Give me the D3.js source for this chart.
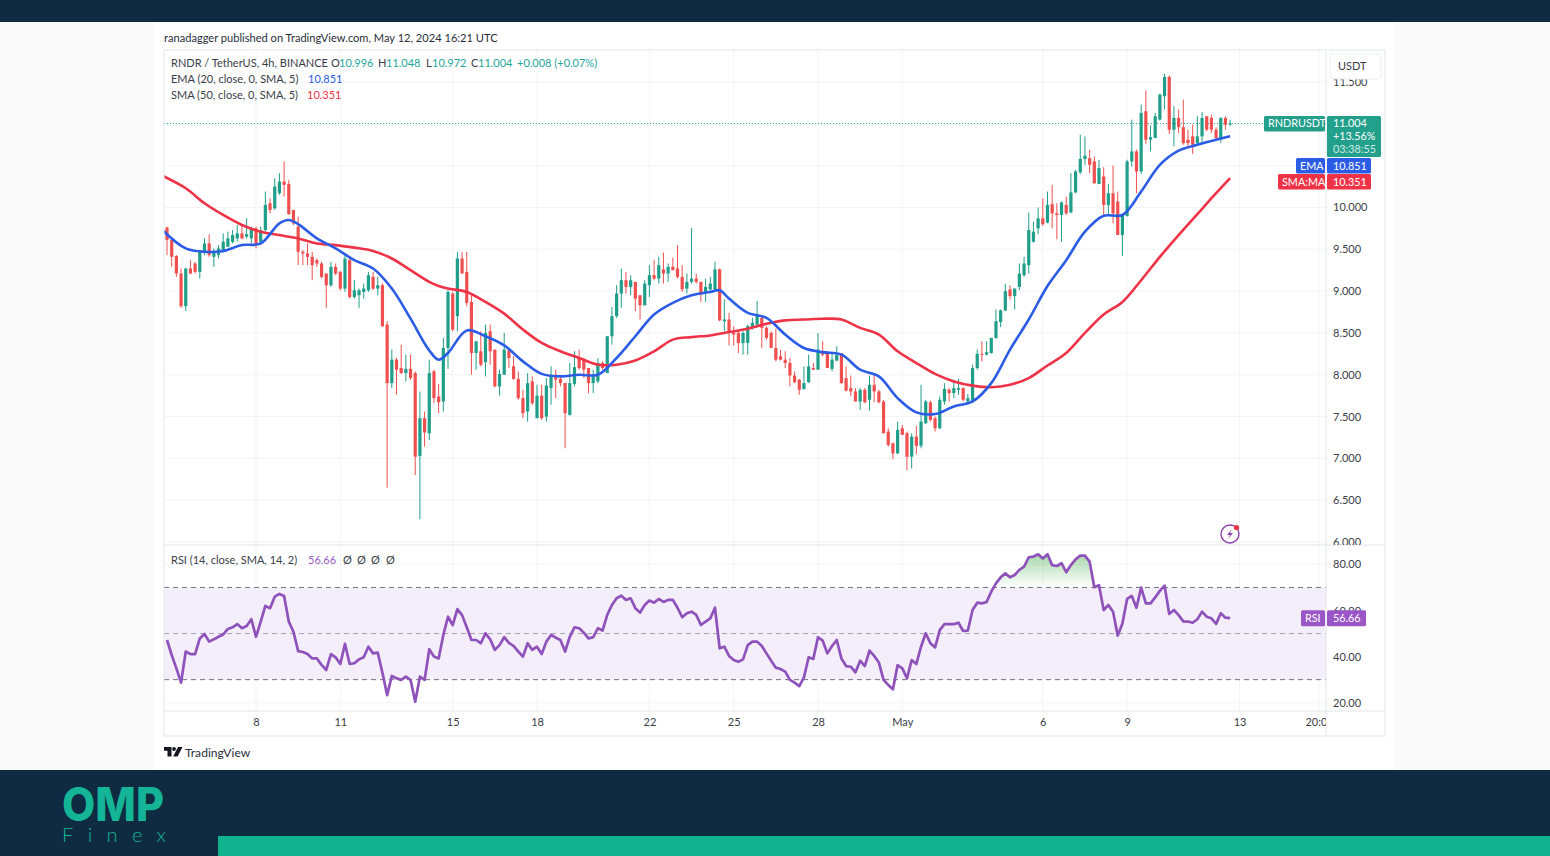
<!DOCTYPE html>
<html>
<head>
<meta charset="utf-8">
<title>RNDR / TetherUS</title>
<script src="https://cdn.jsdelivr.net/npm/d3@7"></script>
<style>
  html, body { margin: 0; padding: 0; background: #fafafa; }
  svg { display: block; }
  text { font-family: Lato, "Noto Sans", sans-serif; }
</style>
</head>
<body>
<svg id="canvas" width="1550" height="856"></svg>
<script>
// candles, 4h bars
const opens = [
  9.76,9.61,9.42,9.21,8.82,9.27,9.33,9.23,9.47,9.57,
  9.41,9.43,9.47,9.53,9.59,9.63,9.69,9.65,9.63,9.75,
  9.59,9.73,10.05,9.99,10.17,10.31,10.28,9.97,9.77,9.47,
  9.45,9.41,9.37,9.33,9.21,9.07,9.29,9.23,9.03,9.37,
  8.93,8.95,8.99,9.01,9.17,9.03,9.07,8.60,7.90,8.18,
  8.08,8.02,8.07,8.02,7.03,7.48,7.30,8.04,7.74,7.68,
  8.32,8.97,8.70,9.39,9.23,8.87,8.26,8.28,8.15,8.52,
  8.30,7.86,8.00,8.29,8.10,7.95,7.72,7.56,7.92,7.48,
  7.75,7.50,7.84,8.00,7.95,7.90,7.52,7.89,8.20,8.18,
  8.08,7.90,7.92,8.14,8.02,8.46,8.70,8.97,9.13,9.05,
  9.11,8.95,8.83,9.07,9.19,9.15,9.26,9.21,9.29,9.27,
  9.17,9.03,9.11,9.15,9.11,8.99,9.02,9.02,9.26,8.64,
  8.66,8.50,8.50,8.38,8.38,8.56,8.60,8.68,8.56,8.50,
  8.32,8.22,8.18,8.14,7.99,7.94,7.83,7.91,8.08,8.06,
  8.28,8.26,8.07,8.17,8.26,7.96,7.84,7.80,7.68,7.82,
  7.70,7.88,7.80,7.68,7.32,7.18,7.06,7.36,7.30,7.02,
  7.26,7.15,7.42,7.67,7.48,7.36,7.68,7.82,7.78,7.82,
  7.84,7.68,7.68,8.08,8.25,8.24,8.26,8.44,8.63,8.77,
  9.02,8.94,9.05,9.19,9.31,9.59,9.75,9.87,9.82,10.04,
  9.93,9.91,10.03,9.94,10.18,10.42,10.58,10.59,10.55,10.28,
  10.37,10.03,10.17,10.07,9.67,9.90,10.55,10.67,10.43,11.15,
  10.81,10.83,11.05,11.33,11.56,10.93,11.07,10.96,10.81,10.85,
  10.77,10.85,11.09,11.07,10.93,10.83,11.07,10.996
];
const highs = [
  9.77,9.62,9.43,9.27,9.28,9.37,9.35,9.49,9.63,9.68,
  9.51,9.55,9.69,9.71,9.73,9.79,9.79,9.87,9.77,9.77,
  9.77,10.19,10.11,10.35,10.41,10.55,10.33,9.97,9.89,9.49,
  9.57,9.47,9.39,9.35,9.21,9.35,9.33,9.24,9.43,9.39,
  9.13,9.03,9.09,9.23,9.23,9.17,9.09,8.64,8.30,8.20,
  8.36,8.24,8.24,8.04,7.80,7.56,8.18,8.06,7.89,8.44,
  9.01,8.99,9.47,9.47,9.47,8.95,8.40,8.52,8.60,8.60,
  8.30,8.06,8.50,8.30,8.22,8.04,7.82,8.02,7.98,7.88,
  7.88,7.96,8.10,8.06,7.98,7.90,8.14,8.28,8.30,8.20,
  8.08,8.06,8.20,8.16,8.46,8.81,9.07,9.27,9.23,9.19,
  9.11,8.95,9.13,9.31,9.37,9.41,9.46,9.33,9.40,9.55,
  9.31,9.21,9.755,9.21,9.11,9.15,9.17,9.35,9.27,8.90,
  8.74,8.58,8.52,8.52,8.60,8.68,8.88,8.70,8.58,8.52,
  8.55,8.30,8.28,8.20,8.04,7.95,8.10,8.24,8.14,8.50,
  8.40,8.28,8.26,8.34,8.26,8.10,7.99,7.84,7.84,7.84,
  7.99,8.00,7.82,7.70,7.36,7.19,7.44,7.40,7.32,7.30,
  7.39,7.88,7.70,7.69,7.50,7.74,7.90,7.84,7.94,7.95,
  7.85,7.77,8.12,8.30,8.40,8.40,8.44,8.78,8.78,9.09,
  9.07,9.03,9.33,9.41,9.94,9.83,10.00,10.11,10.19,10.27,
  10.05,10.07,10.13,10.41,10.45,10.87,10.85,10.69,10.61,10.57,
  10.48,10.28,10.50,10.19,9.91,10.57,11.05,10.69,11.23,11.40,
  10.98,11.13,11.36,11.60,11.58,11.21,11.17,11.29,10.93,10.99,
  11.09,11.14,11.09,11.11,10.96,11.08,11.09,11.048
];
const lows = [
  9.43,9.29,9.17,8.80,8.76,9.20,9.21,9.15,9.43,9.41,
  9.29,9.39,9.46,9.53,9.57,9.59,9.62,9.63,9.57,9.51,
  9.55,9.71,9.93,9.97,10.15,10.13,9.91,9.79,9.31,9.31,
  9.31,9.13,9.29,9.15,8.80,9.05,9.19,9.01,8.99,8.91,
  8.91,8.80,8.91,8.99,9.01,8.95,8.57,6.65,7.84,7.76,
  8.01,7.92,7.94,6.80,6.27,7.14,7.22,7.66,7.54,7.56,
  8.07,8.52,8.52,9.21,8.82,8.00,8.06,8.10,7.98,8.12,
  7.85,7.75,8.00,8.08,7.94,7.70,7.48,7.44,7.64,7.48,
  7.46,7.44,7.64,7.72,7.86,7.12,7.51,7.86,8.06,7.96,
  7.78,7.78,7.90,8.06,8.02,8.36,8.68,8.80,8.97,8.95,
  8.76,8.66,8.83,8.93,9.13,9.09,9.09,9.11,9.25,9.15,
  8.99,8.97,9.09,9.09,8.87,8.87,8.99,8.99,8.64,8.52,
  8.35,8.35,8.26,8.24,8.24,8.54,8.58,8.32,8.42,8.32,
  8.16,8.17,8.08,7.86,7.90,7.76,7.82,7.90,8.06,8.06,
  8.22,8.08,8.04,8.16,7.89,7.80,7.74,7.68,7.58,7.66,
  7.57,7.67,7.66,7.30,7.14,6.99,7.05,7.28,6.86,6.88,
  7.05,7.12,7.41,7.44,7.32,7.35,7.64,7.68,7.72,7.76,
  7.68,7.67,7.66,8.06,8.16,8.23,8.25,8.43,8.57,8.76,
  8.90,8.78,9.01,9.17,9.21,9.58,9.68,9.78,9.81,9.75,
  9.62,9.59,9.91,9.93,10.17,10.40,10.51,10.41,10.28,10.28,
  9.91,9.91,9.81,9.67,9.42,9.89,10.49,10.17,10.40,10.76,
  10.67,10.83,11.04,11.17,10.88,10.73,10.89,10.75,10.72,10.64,
  10.75,10.75,10.91,10.89,10.82,10.77,10.93,10.972
];
const closes = [
  9.61,9.41,9.21,8.82,9.27,9.21,9.23,9.47,9.57,9.43,
  9.47,9.51,9.59,9.63,9.67,9.69,9.63,9.68,9.75,9.55,
  9.73,10.03,9.97,10.25,10.31,10.27,9.92,9.81,9.47,9.45,
  9.41,9.31,9.33,9.17,9.07,9.29,9.21,9.03,9.39,8.93,
  9.01,9.01,9.03,9.19,9.03,9.07,8.58,7.90,8.18,8.06,
  8.02,8.07,7.96,7.02,7.48,7.31,8.02,7.72,7.67,8.32,
  8.99,8.54,9.39,9.21,8.86,8.26,8.40,8.12,8.50,8.28,
  7.86,8.01,8.30,8.20,7.95,7.72,7.54,7.90,7.66,7.75,
  7.48,7.87,8.00,7.94,7.90,7.54,7.90,8.09,8.08,8.06,
  7.90,7.98,8.14,8.08,8.46,8.70,8.97,9.13,9.05,9.13,
  8.91,8.83,9.09,9.19,9.15,9.31,9.21,9.29,9.25,9.17,
  9.02,9.11,9.15,9.11,8.97,9.05,9.09,9.26,8.65,8.66,
  8.50,8.48,8.38,8.50,8.58,8.62,8.72,8.56,8.44,8.32,
  8.18,8.18,8.14,7.99,7.91,7.82,7.90,8.10,8.06,8.30,
  8.24,8.08,8.18,8.24,7.90,7.81,7.80,7.68,7.82,7.67,
  7.88,7.80,7.67,7.30,7.16,7.06,7.34,7.28,7.02,7.26,
  7.15,7.44,7.68,7.46,7.36,7.70,7.83,7.78,7.84,7.84,
  7.70,7.72,8.08,8.25,8.24,8.27,8.44,8.64,8.77,9.00,
  8.94,9.03,9.21,9.33,9.73,9.71,9.87,9.80,10.03,9.93,
  9.91,10.06,9.93,10.18,10.43,10.58,10.62,10.51,10.29,10.47,
  10.03,10.17,9.93,9.67,9.91,10.55,10.67,10.43,11.13,10.81,
  10.84,11.09,11.35,11.56,10.93,11.07,10.96,10.77,10.77,10.75,
  10.85,11.07,10.93,10.93,10.83,11.07,10.99,11.004
];

// moving averages, read every few bars and at the turns
const maBars = [
  -1,4,8,12,16,20,24,26,28,32,36,40,44,48,52,56,58,60,64,68,72,76,80,84,88,92,
  96,100,104,108,112,116,118,120,124,128,132,136,140,144,148,152,156,160,164,168,
  172,176,180,184,188,192,196,200,204,208,212,216,220,224,227
];
const emaValues = [
  9.73,9.51,9.47,9.48,9.55,9.57,9.81,9.85,9.80,9.63,9.51,9.37,9.27,9.03,8.67,8.29,8.18,8.26,8.53,8.46,8.35,8.16,8.01,7.98,8.00,8.00,
  8.20,8.46,8.72,8.86,8.95,8.99,9.01,8.91,8.74,8.68,8.48,8.32,8.27,8.24,8.06,7.98,7.72,7.55,7.53,7.62,
  7.68,7.90,8.30,8.66,9.06,9.37,9.71,9.90,9.91,10.19,10.51,10.68,10.75,10.81,10.851
];
const smaValues = [
  10.38,10.23,10.05,9.91,9.79,9.71,9.67,9.65,9.63,9.57,9.55,9.52,9.48,9.39,9.25,9.11,9.06,9.03,8.99,8.87,8.73,8.54,8.38,8.28,8.20,8.12,
  8.12,8.17,8.28,8.42,8.45,8.47,8.49,8.51,8.55,8.61,8.65,8.66,8.67,8.66,8.56,8.48,8.28,8.14,8.01,7.92,
  7.87,7.85,7.88,7.96,8.11,8.26,8.50,8.72,8.87,9.13,9.41,9.67,9.92,10.17,10.351
];

const rsiValues = [
  47.2,40.7,34.9,28.7,42.2,41.1,41.1,47.9,49.8,46.5,
  47.5,48.6,49.6,52.0,52.7,54.1,52.3,53.3,56.2,48.6,
  55.2,62.0,61.0,66.0,67.2,66.3,55.2,50.8,42.4,42.0,
  41.1,39.2,39.2,36.4,34.2,41.1,39.7,36.8,45.5,36.8,
  37.1,38.8,39.7,44.3,41.4,41.7,33.0,23.3,31.6,30.6,
  29.9,31.3,29.9,20.4,31.3,29.9,43.2,40.0,39.2,49.4,
  57.3,53.7,60.6,58.0,52.7,47.2,47.2,45.8,50.1,47.5,
  42.9,45.0,48.4,46.0,44.6,42.2,40.0,45.8,42.9,44.3,
  41.1,46.5,49.4,48.2,47.2,42.2,48.6,52.7,52.3,50.4,
  47.9,48.4,52.3,51.3,58.1,62.4,65.3,66.4,64.6,65.3,
  61.0,59.1,62.4,64.3,63.4,65.0,63.7,64.6,64.6,61.2,
  57.1,58.8,59.5,58.1,53.7,55.2,56.6,61.2,43.6,44.3,
  40.3,38.5,37.8,38.8,45.0,46.5,46.5,44.6,41.4,38.2,
  35.2,34.6,33.5,29.9,28.7,27.2,31.0,39.7,39.0,48.4,
  46.9,41.4,44.6,47.2,39.2,35.9,35.6,33.2,38.2,35.9,
  42.6,40.3,37.4,29.9,27.7,25.8,36.3,34.9,30.6,38.5,
  36.8,44.3,50.1,45.8,44.0,51.5,54.1,54.1,54.1,54.7,
  51.1,51.3,60.2,63.4,63.1,63.7,68.2,71.8,74.4,76.1,
  74.4,75.4,77.6,79.0,83.1,83.4,84.4,82.6,84.4,79.7,
  79.3,80.5,76.6,79.7,82.2,83.8,83.8,81.2,70.1,71.0,
  60.2,62.4,59.5,49.1,54.4,65.0,66.3,61.2,69.9,63.1,
  63.1,65.7,68.5,70.8,58.5,60.2,58.0,55.3,55.2,54.7,
  56.2,59.5,57.3,56.6,54.2,58.8,56.9,56.66
];

const priceTicks = d3.range(6, 11.75, 0.5);
const rsiTicks = [20, 40, 60, 80];
const rsiLevels = [70, 50, 30];

const timeBars = [19, 37, 61, 79, 103, 121, 139, 157, 187, 205, 229, 246];
const timeLabels = ['8', '11', '15', '18', '22', '25', '28', 'May', '6', '9', '13', '20:00'];

const lastClose = 11.004;
const lastEma = 10.851;
const lastSma = 10.351;
const lastRsi = 56.66;

const upColor = '#1f9e89';
const downColor = '#ef4f4f';
const emaColor = '#2b5ce6';
const smaColor = '#ef3347';
const rsiColor = '#8f52ba';
const navy = '#0f2b42';
const teal = '#11b48f';
const textColor = '#3a3d47';
const gridColor = '#f3f4f6';
const frameColor = '#e3e5ea';

const paneLeft = 164;
const paneRight = 1326;
const frameRight = 1385;
const frameTop = 50;
const paneBottom = 545;
const rsiBottom = 711;
const frameBottom = 736;

const svg = d3.select('#canvas');

const x = d3.scaleLinear().domain([19, 229]).range([256, 1239.5]);
const y = d3.scaleLinear().domain([6, 11.5]).range([542, 82]);
const yRsi = d3.scaleLinear().domain([20, 80]).range([702.7, 564.4]);

const defs = svg.append('defs');
const addClip = (id, x0, y0, x1, y1) => {
  defs
    .append('clipPath')
    .attr('id', id)
    .append('rect')
    .attr('x', x0)
    .attr('y', y0)
    .attr('width', x1 - x0)
    .attr('height', y1 - y0);
};
addClip('price-clip', paneLeft, frameTop, paneRight, paneBottom);
addClip('rsi-clip', paneLeft, paneBottom, paneRight, rsiBottom);
addClip('above-70', paneLeft, paneBottom, paneRight, yRsi(70));
addClip('price-axis-clip', paneRight, frameTop, frameRight, paneBottom);
addClip('time-axis-clip', paneLeft, rsiBottom, paneRight, frameBottom);

const overGradient = defs
  .append('linearGradient')
  .attr('id', 'over-fill')
  .attr('gradientUnits', 'userSpaceOnUse')
  .attr('x1', 0)
  .attr('x2', 0)
  .attr('y1', yRsi(85))
  .attr('y2', yRsi(70));
overGradient.append('stop').attr('offset', '0%').attr('stop-color', '#4caf50').attr('stop-opacity', 0.5);
overGradient.append('stop').attr('offset', '100%').attr('stop-color', '#4caf50').attr('stop-opacity', 0);

// page pieces
svg.append('rect').attr('x', 155).attr('y', 0).attr('width', 1240).attr('height', 770).attr('fill', '#fff');
svg.append('rect').attr('width', 1550).attr('height', 22).attr('fill', navy);
svg.append('rect').attr('y', 770).attr('width', 1550).attr('height', 86).attr('fill', navy);
svg.append('rect').attr('x', 218).attr('y', 836).attr('width', 1332).attr('height', 20).attr('fill', teal);

svg
  .append('text')
  .attr('x', 62)
  .attr('y', 821)
  .attr('font-size', 46)
  .attr('font-weight', 800)
  .attr('fill', '#14b596')
  .attr('textLength', 102)
  .attr('lengthAdjust', 'spacingAndGlyphs')
  .style('font-family', 'Inter, "Open Sans", sans-serif')
  .text('OMP');
svg
  .append('text')
  .attr('x', 62)
  .attr('y', 842)
  .attr('font-size', 20)
  .attr('font-weight', 300)
  .attr('fill', '#14b596')
  .attr('textLength', 104)
  .style('font-family', 'Lato, sans-serif')
  .text('Finex');

svg
  .append('text')
  .attr('x', 164)
  .attr('y', 42)
  .attr('font-size', 11.1)
  .attr('fill', '#2a2e39')
  .text('ranadagger published on TradingView.com, May 12, 2024 16:21 UTC');

// grid
const gridX = svg.append('g').attr('stroke', gridColor);
gridX
  .selectAll('line')
  .data(timeBars)
  .enter()
  .append('line')
  .attr('x1', (d) => x(d))
  .attr('x2', (d) => x(d))
  .attr('y1', frameTop)
  .attr('y2', rsiBottom);
svg
  .append('g')
  .attr('stroke', gridColor)
  .attr('clip-path', 'url(#price-clip)')
  .selectAll('line')
  .data(priceTicks)
  .enter()
  .append('line')
  .attr('x1', paneLeft)
  .attr('x2', paneRight)
  .attr('y1', (d) => y(d))
  .attr('y2', (d) => y(d));
svg
  .append('g')
  .attr('stroke', gridColor)
  .selectAll('line')
  .data(rsiTicks)
  .enter()
  .append('line')
  .attr('x1', paneLeft)
  .attr('x2', paneRight)
  .attr('y1', (d) => yRsi(d))
  .attr('y2', (d) => yRsi(d));

// last price dotted line
svg
  .append('line')
  .attr('x1', paneLeft)
  .attr('x2', paneRight)
  .attr('y1', Math.round(y(lastClose)) + 0.5)
  .attr('y2', Math.round(y(lastClose)) + 0.5)
  .attr('stroke', '#22b09a')
  .attr('stroke-dasharray', '1 2');

// candles
const candleGroup = svg.append('g').attr('clip-path', 'url(#price-clip)');
const candleColor = (i) => (closes[i] >= opens[i] ? upColor : downColor);
candleGroup
  .selectAll('line')
  .data(opens)
  .enter()
  .append('line')
  .attr('x1', (d, i) => x(i))
  .attr('x2', (d, i) => x(i))
  .attr('y1', (d, i) => y(highs[i]))
  .attr('y2', (d, i) => y(lows[i]))
  .attr('stroke', (d, i) => candleColor(i))
  .attr('stroke-width', 1);
candleGroup
  .selectAll('rect')
  .data(opens)
  .enter()
  .append('rect')
  .attr('x', (d, i) => x(i) - 1.6)
  .attr('width', 3.2)
  .attr('y', (d, i) => y(Math.max(d, closes[i])))
  .attr('height', (d, i) => Math.max(1, Math.abs(y(d) - y(closes[i]))))
  .attr('fill', (d, i) => candleColor(i));

// moving averages
const maLine = (values) =>
  d3
    .line()
    .x((d, i) => x(maBars[i]))
    .y((d) => y(d))
    .curve(d3.curveCatmullRom.alpha(0.5))(values);
const maGroup = svg.append('g').attr('clip-path', 'url(#price-clip)').attr('fill', 'none').attr('stroke-width', 2.6);
maGroup.append('path').attr('d', maLine(smaValues)).attr('stroke', smaColor);
maGroup.append('path').attr('d', maLine(emaValues)).attr('stroke', emaColor);

// rsi pane
svg
  .append('rect')
  .attr('x', paneLeft)
  .attr('width', paneRight - paneLeft)
  .attr('y', yRsi(70))
  .attr('height', yRsi(30) - yRsi(70))
  .attr('fill', '#f3eefa');

const rsiArea = d3
  .area()
  .x((d, i) => x(i))
  .y0(yRsi(70))
  .y1((d) => yRsi(d));
svg
  .append('path')
  .attr('d', rsiArea(rsiValues))
  .attr('fill', 'url(#over-fill)')
  .attr('clip-path', 'url(#above-70)');

svg
  .append('g')
  .selectAll('line')
  .data(rsiLevels)
  .enter()
  .append('line')
  .attr('x1', paneLeft)
  .attr('x2', paneRight)
  .attr('y1', (d) => yRsi(d))
  .attr('y2', (d) => yRsi(d))
  .attr('stroke', (d) => (d === 50 ? '#a3a6af' : '#6f727c'))
  .attr('stroke-dasharray', '5 4');

const rsiLine = d3
  .line()
  .x((d, i) => x(i))
  .y((d) => yRsi(d));
svg
  .append('path')
  .attr('clip-path', 'url(#rsi-clip)')
  .attr('d', rsiLine(rsiValues))
  .attr('fill', 'none')
  .attr('stroke', rsiColor)
  .attr('stroke-width', 2.7)
  .attr('stroke-linejoin', 'round');

// frame
const frame = svg.append('g').attr('stroke', frameColor).attr('fill', 'none');
frame
  .append('rect')
  .attr('x', paneLeft)
  .attr('y', frameTop)
  .attr('width', frameRight - paneLeft)
  .attr('height', frameBottom - frameTop);
frame.append('line').attr('x1', paneRight).attr('x2', paneRight).attr('y1', frameTop).attr('y2', frameBottom);
frame.append('line').attr('x1', paneLeft).attr('x2', frameRight).attr('y1', paneBottom).attr('y2', paneBottom);
frame.append('line').attr('x1', paneLeft).attr('x2', frameRight).attr('y1', rsiBottom).attr('y2', rsiBottom);

// axes
const styleAxis = (g) => {
  g.select('.domain').remove();
  g.selectAll('.tick line').remove();
  g.selectAll('.tick text').attr('fill', textColor).attr('font-size', 11).style('font-family', 'Lato, sans-serif');
};
svg
  .append('g')
  .attr('clip-path', 'url(#price-axis-clip)')
  .append('g')
  .attr('transform', `translate(${paneRight + 4},0)`)
  .call(d3.axisRight(y).tickValues(priceTicks).tickFormat(d3.format('.3f')).tickSize(0).tickPadding(3))
  .call(styleAxis);
svg
  .append('g')
  .attr('transform', `translate(${paneRight + 4},0)`)
  .call(d3.axisRight(yRsi).tickValues(rsiTicks).tickFormat(d3.format('.2f')).tickSize(0).tickPadding(3))
  .call(styleAxis);
svg
  .append('g')
  .attr('clip-path', 'url(#time-axis-clip)')
  .append('g')
  .attr('transform', `translate(0,${rsiBottom})`)
  .call(
    d3
      .axisBottom(x)
      .tickValues(timeBars)
      .tickFormat((d, i) => timeLabels[i])
      .tickSize(0)
      .tickPadding(7)
  )
  .call(styleAxis);

// legend
const legendLine = (yPos, parts) => {
  const line = svg.append('text').attr('y', yPos).attr('font-size', 11);
  parts.forEach(([label, color, xPos]) => {
    line.append('tspan').attr('x', xPos).attr('fill', color).text(label);
  });
};
const legendUp = '#26a69a';
legendLine(67, [
  ['RNDR / TetherUS, 4h, BINANCE', textColor, 171],
  ['O', textColor, 331],
  ['10.996', legendUp, 339],
  ['H', textColor, 378],
  ['11.048', legendUp, 386],
  ['L', textColor, 426],
  ['10.972', legendUp, 432],
  ['C', textColor, 471],
  ['11.004', legendUp, 478],
  ['+0.008 (+0.07%)', legendUp, 517]
]);
legendLine(83, [['EMA (20, close, 0, SMA, 5)', textColor, 171], [String(lastEma), emaColor, 308]]);
legendLine(99, [['SMA (50, close, 0, SMA, 5)', textColor, 171], [String(lastSma), smaColor, 307]]);
legendLine(564, [
  ['RSI (14, close, SMA, 14, 2)', textColor, 171],
  [String(lastRsi), '#9c5cc4', 308],
  ['\u00d8', textColor, 343],
  ['\u00d8', textColor, 357],
  ['\u00d8', textColor, 371],
  ['\u00d8', textColor, 386]
]);

// price tags on the right
const tag = (x0, y0, w, h, fill, lines, pad) => {
  svg.append('rect').attr('x', x0).attr('y', y0).attr('width', w).attr('height', h).attr('rx', 1.5).attr('fill', fill);
  lines.forEach(([label, opacity], i) => {
    svg
      .append('text')
      .attr('x', x0 + pad)
      .attr('y', y0 + 11.5 + i * 13)
      .attr('font-size', 10.8)
      .attr('fill', '#fff')
      .attr('fill-opacity', opacity)
      .text(label);
  });
};
const closeTagTop = y(lastClose) - 7.5;
// the two average tags are pushed below the close tag, not at their own level
tag(1264, closeTagTop, 61, 15.5, '#22a08c', [['RNDRUSDT', 1]], 4);
tag(1327, closeTagTop, 54, 41, '#22a08c', [[lastClose.toFixed(3), 1], ['+13.56%', 1], ['03:38:55', 0.8]], 6);
tag(1296, 158, 29, 15.5, emaColor, [['EMA', 1]], 4);
tag(1327, 158, 44, 15.5, emaColor, [[lastEma.toFixed(3), 1]], 6);
tag(1278, 174, 47, 15.5, smaColor, [['SMA:MA', 1]], 4);
tag(1327, 174, 44, 15.5, smaColor, [[lastSma.toFixed(3), 1]], 6);
tag(1301, yRsi(lastRsi) - 8, 24, 16, '#9a55c6', [['RSI', 1]], 4);
tag(1327, yRsi(lastRsi) - 8, 39, 16, '#9a55c6', [[lastRsi.toFixed(2), 1]], 6);

// currency button
svg
  .append('rect')
  .attr('x', 1330)
  .attr('y', 54)
  .attr('width', 51)
  .attr('height', 25)
  .attr('rx', 4)
  .attr('fill', '#fff')
  .attr('stroke', '#eceef3');
svg.append('text').attr('x', 1338).attr('y', 70).attr('font-size', 11).attr('fill', textColor).text('USDT');

// lightning badge
const badge = svg.append('g').attr('transform', 'translate(1230,534)');
badge.append('circle').attr('r', 9).attr('fill', '#fff').attr('stroke', '#8f3fb0').attr('stroke-width', 1.4);
badge.append('path').attr('d', 'M2,-5 L-3,1 L0,1 L-2,5 L3,-1 L0,-1 Z').attr('fill', '#8f3fb0');
badge.append('circle').attr('cx', 6.5).attr('cy', -6.5).attr('r', 2.6).attr('fill', '#ef3347');

// logo
const logo = svg.append('g').attr('transform', 'translate(164,747)').attr('fill', '#131722');
logo.append('path').attr('d', 'M0,0 H7.5 V9.5 H3.5 V3.8 H0 Z');
logo.append('circle').attr('cx', 10).attr('cy', 2).attr('r', 1.9);
logo.append('path').attr('d', 'M14,0 H18.5 L13.6,9.5 H9.2 Z');
svg.append('text').attr('x', 185).attr('y', 757).attr('font-size', 12.1).attr('fill', '#2a2e39').text('TradingView');
</script>
</body>
</html>
